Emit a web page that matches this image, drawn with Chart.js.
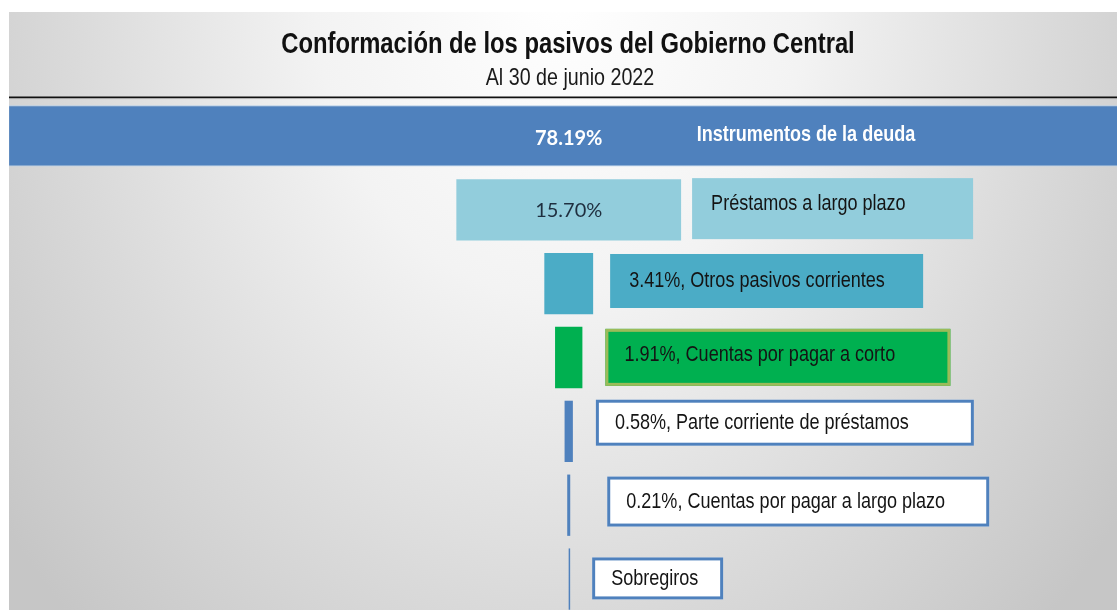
<!DOCTYPE html>
<html>
<head>
<meta charset="utf-8">
<script src="https://cdn.jsdelivr.net/npm/chart.js@4.4.1/dist/chart.umd.min.js"></script>
<style>
  html, body { margin: 0; padding: 0; background: #ffffff; overflow: hidden; }
  #wrap { position: absolute; left: 9px; top: 12px; width: 1108px; height: 604px; }
</style>
</head>
<body>
<div id="wrap"><canvas id="myChart"></canvas></div>
<script>
// datos (porcentaje del total de pasivos)
var categories = [
  'Instrumentos de la deuda',
  'Préstamos a largo plazo',
  'Otros pasivos corrientes',
  'Cuentas por pagar a corto',
  'Parte corriente de préstamos',
  'Cuentas por pagar a largo plazo',
  'Sobregiros'
];
var values = [78.19, 15.70, 3.41, 1.91, 0.58, 0.21, 0.01];
var titleText = 'Conformación de los pasivos del Gobierno Central';
var subtitleText = 'Al 30 de junio 2022';

var barColors = ['#4f81bd', '#92cddc', '#4bacc6', '#00b050', '#4f81bd', '#4f81bd', '#4f81bd'];

// no hay fuente "narrow" instalada: se comprime Liberation Sans en horizontal
var SANS = "'Liberation Sans', Arial, sans-serif";
var NARROW_X = 0.82;

// cajas de etiqueta (estilo de las llamadas de Excel)
var callouts = [
  { mode: 'inside', dx: 128 },
  { mode: 'inside', gap: 11, top: -1, w: 281, h: 61, fill: '#92cddc', stroke: null, lw: 0, dy: -5 },
  { mode: 'prefix', gap: 17, top: 1, w: 313, h: 54, fill: '#4bacc6', stroke: null, lw: 0, dy: 0 },
  { mode: 'prefix', gap: 23, top: 2, w: 345, h: 57, fill: '#00b050', stroke: '#9bbb59', lw: 3, dy: -2 },
  { mode: 'prefix', gap: 23, top: -1, w: 378, h: 46, fill: '#ffffff', stroke: '#4f81bd', lw: 3, dy: 0 },
  { mode: 'prefix', gap: 37, top: 2, w: 382, h: 50, fill: '#ffffff', stroke: '#4f81bd', lw: 3, dy: 0 },
  { mode: 'none', gap: 22, top: 9, w: 131, h: 42, fill: '#ffffff', stroke: '#4f81bd', lw: 3, dy: 1 }
];

function narrowText(ctx, text, x, y, align) {
  ctx.save();
  ctx.translate(x, y);
  ctx.scale(NARROW_X, 1);
  ctx.textAlign = align;
  ctx.fillText(text, 0, 0);
  ctx.restore();
}

var backdrop = {
  id: 'backdrop',
  beforeDraw: function(chart) {
    var ctx = chart.ctx, W = chart.width, H = chart.height;
    var cx = 551, cy = -20;
    ctx.save();
    ctx.translate(cx, cy);
    ctx.scale(1, 1.25);
    var g = ctx.createRadialGradient(0, 0, 0, 0, 0, 700);
    g.addColorStop(0, '#ffffff');
    g.addColorStop(0.35, '#f3f3f3');
    g.addColorStop(0.7, '#dadada');
    g.addColorStop(1, '#c6c6c6');
    ctx.fillStyle = g;
    ctx.fillRect(-cx, -cy / 1.25, W, H / 1.25);
    ctx.restore();

    // titulo
    ctx.save();
    ctx.textBaseline = 'alphabetic';
    ctx.fillStyle = '#111111';
    ctx.font = 'bold 29px ' + SANS;
    narrowText(ctx, titleText, 559, 41, 'center');
    ctx.font = '24px ' + SANS;
    ctx.fillStyle = '#1a1a1a';
    narrowText(ctx, subtitleText, 561, 73, 'center');
    // linea
    ctx.fillStyle = '#111111';
    ctx.fillRect(0, 84.5, W, 1.6);
    ctx.fillStyle = 'rgba(0,0,0,0.18)';
    ctx.fillRect(0, 86.1, W, 1);
    ctx.restore();
  }
};

var labelBoxes = {
  id: 'labelBoxes',
  afterDatasetsDraw: function(chart) {
    var ctx = chart.ctx;
    var meta = chart.getDatasetMeta(0);
    meta.data.forEach(function(bar, i) {
      var p = bar.getProps(['x', 'y', 'base', 'height'], true);
      var c = callouts[i];
      var center = (p.x + p.base) / 2;
      var right = Math.max(p.x, p.base);
      var top = p.y - p.height / 2;
      var pct = values[i].toFixed(2) + '%';
      ctx.save();
      ctx.textBaseline = 'middle';
      if (c.mode === 'inside') {
        ctx.textAlign = 'center';
        ctx.fillStyle = i === 0 ? '#ffffff' : '#1f2f3f';
        ctx.font = (i === 0 ? 'bold ' : '') + '20px Lato, sans-serif';
        ctx.fillText(pct, center, p.y + (i === 0 ? 3 : 1));
      }
      if (i === 0) {
        ctx.fillStyle = '#ffffff';
        ctx.font = 'bold 22px ' + SANS;
        narrowText(ctx, categories[i], center + c.dx, p.y - 1, 'left');
        ctx.restore();
        return;
      }
      var bx = right + c.gap, by = top + c.top;
      ctx.fillStyle = c.fill;
      ctx.fillRect(bx, by, c.w, c.h);
      if (c.stroke) {
        ctx.strokeStyle = c.stroke;
        ctx.lineWidth = c.lw;
        ctx.strokeRect(bx + c.lw / 2, by + c.lw / 2, c.w - c.lw, c.h - c.lw);
      }
      var txt = categories[i];
      if (c.mode === 'prefix') txt = pct + ', ' + txt;
      ctx.fillStyle = '#141414';
      ctx.font = '22px ' + SANS;
      narrowText(ctx, txt, bx + 19, by + c.h / 2 + c.dy, 'left');
      ctx.restore();
    });
  }
};

var ctx = document.getElementById('myChart').getContext('2d');
var myChart = new Chart(ctx, {
  type: 'bar',
  data: {
    labels: categories,
    datasets: [{
      label: 'Pasivos',
      data: values.map(function(v) { return [-v / 2, v / 2]; }),
      backgroundColor: barColors,
      borderColor: ['#b3cde9', 'rgba(0,0,0,0)', 'rgba(0,0,0,0)', 'rgba(0,0,0,0)', 'rgba(0,0,0,0)', 'rgba(0,0,0,0)', 'rgba(0,0,0,0)'],
      borderWidth: [{ top: 1, bottom: 1, left: 0, right: 0 }, 0, 0, 0, 0, 0, 0],
      borderSkipped: false,
      minBarLength: 1.5,
      barPercentage: 0.83,
      categoryPercentage: 1
    }]
  },
  options: {
    indexAxis: 'y',
    responsive: true,
    maintainAspectRatio: false,
    animation: false,
    layout: { padding: { top: 87, left: 0, right: 0, bottom: 0 } },
    plugins: {
      legend: { display: false },
      tooltip: { enabled: false },
      title: { display: false }
    },
    scales: {
      x: { type: 'linear', min: -39.1, max: 38.3, display: false },
      y: { display: false }
    }
  },
  plugins: [backdrop, labelBoxes]
});
</script>
</body>
</html>
